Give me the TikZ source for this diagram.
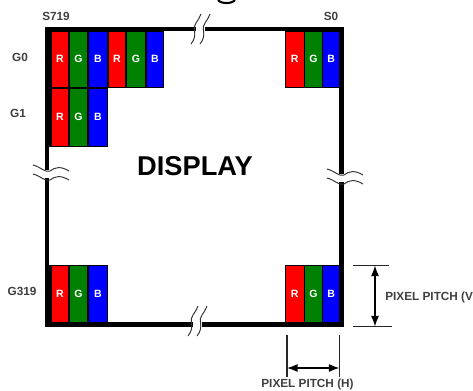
\documentclass[tikz,border=0pt]{standalone}
\usepackage{fontspec}
\setmainfont{Liberation Sans}
\usepackage{tikz}
\usetikzlibrary{arrows.meta}
\definecolor{pixred}{RGB}{255,0,0}
\definecolor{pixgreen}{RGB}{0,128,0}
\definecolor{pixblue}{RGB}{0,0,255}
\tikzset{
	cell/.style={draw=black,line width=0.5pt,inner sep=0pt,text=white,font=\fontsize{6}{6}\selectfont\bfseries,anchor=north west},
	lab/.style={text=black!75,inner sep=0pt,font=\fontsize{6.7}{7}\selectfont\bfseries},
	frameline/.style={line width=2.5pt},
	breakline/.style={line width=0.55pt,black!80},
	dimline/.style={line width=0.6pt,black!85},
	dimarrow/.style={line width=0.7pt,{Latex[length=6pt,width=4.5pt]}-{Latex[length=6pt,width=4.5pt]}}
}
% one cell: name, colour, letter, left, top, right, bottom
\newcommand{\pixcell}[7]{\node[cell,fill=#2,minimum width={(#6-#4)*0.567pt},minimum height={(#7-#5)*0.567pt}] (#1) at (#4,#5) {#3};}
% one R G B triple: prefix, left, x1, x2, right, top, bottom
\newcommand{\pixtriple}[7]{
	\pixcell{#1r}{pixred}{R}{#2}{#6}{#3}{#7}
	\pixcell{#1g}{pixgreen}{G}{#3}{#6}{#4}{#7}
	\pixcell{#1b}{pixblue}{B}{#4}{#6}{#5}{#7}
}
\begin{document}
\begin{tikzpicture}[x=0.02cm,y=-0.02cm]
	\useasboundingbox (0,0) rectangle (473,390);
	\fill[white] (0,0) rectangle (473,390);
	% frame
	\draw[frameline] (47.2,28.8) rectangle (341.5,324.5);
	\fill (45,27) rectangle (50.5,146.5);
	\fill (45,265) rectangle (50.5,326.7);
	% pixels
	\pixtriple{a}{50.5}{68.5}{87.5}{107.5}{30.5}{87.5}
	\pixtriple{b}{107.5}{125.5}{145.5}{163.5}{30.5}{87.5}
	\pixtriple{c}{50.5}{68.5}{87.5}{107.5}{87.5}{146.5}
	\pixtriple{d}{284.7}{304}{322}{339.5}{30.5}{87.5}
	\pixtriple{e}{50.5}{68.5}{87.5}{107.5}{265.3}{322.5}
	\pixtriple{f}{284.7}{304}{322}{339.5}{265.3}{322.5}
	% breaks in the frame
	\foreach \bx/\by/\gy in {200/14/29,197/306/324.5}{
		\fill[white] ({\bx-4},{\gy-3}) rectangle ({\bx+5},{\gy+3});
		\draw[breakline] ({\bx-9},{\by+30}) .. controls ({\bx-1},{\by+20}) and ({\bx-9},{\by+14}) .. ({\bx-4},{\by+9}) .. controls ({\bx-2},{\by+6}) and ({\bx},{\by+3}) .. ({\bx+1},{\by});
		\draw[breakline] ({\bx},{\by+30}) .. controls ({\bx+8},{\by+20}) and ({\bx},{\by+14}) .. ({\bx+5},{\by+9}) .. controls ({\bx+7},{\by+6}) and ({\bx+9},{\by+3}) .. ({\bx+10},{\by});
	}
	\foreach \bx/\by in {33/165,327/169}{
		\fill[white] ({\bx+8},{\by+5}) rectangle ({\bx+20},{\by+13});
		\draw[breakline] (\bx,\by) .. controls ({\bx+8},{\by+2}) and ({\bx+12},{\by+8}) .. ({\bx+17},{\by+6}) .. controls ({\bx+22},{\by+2}) and ({\bx+28},{\by+1}) .. ({\bx+36},{\by+6});
		\draw[breakline] (\bx,{\by+9}) .. controls ({\bx+8},{\by+11}) and ({\bx+12},{\by+17}) .. ({\bx+17},{\by+15}) .. controls ({\bx+22},{\by+11}) and ({\bx+28},{\by+10}) .. ({\bx+36},{\by+15});
	}
	% cut off piece at the top edge
	\draw[line width=1.2pt] (218,0) .. controls (221,4) and (232,4) .. (235,0);
	% labels
	\node[lab] (s719) at (56,16.5) {S719};
	\node[lab] (s0) at (331,16.5) {S0};
	\node[lab] (g0) at (20,57) {G0};
	\node[lab] (g1) at (18,113) {G1};
	\node[lab] (g319) at (22,291) {G319};
	\node[font=\fontsize{15.5}{16}\selectfont\bfseries,inner sep=0pt] (display) at (195,166.5) {DISPLAY};
	% pixel pitch
	\coordinate (vtl) at (353,265.5);
	\coordinate (vtr) at (389,265.5);
	\coordinate (vbl) at (353,326.5);
	\coordinate (vbr) at (392,326.5);
	\coordinate (va) at (375,265.5);
	\coordinate (vb) at (375,326.5);
	\coordinate (hlt) at (287,335);
	\coordinate (hlb) at (287,377);
	\coordinate (hrt) at (339.5,335);
	\coordinate (hrb) at (339.5,377);
	\coordinate (ha) at (287,368);
	\coordinate (hb) at (339.5,368);
	\draw[dimline] (vtl) -- (vtr);
	\draw[dimline] (vbl) -- (vbr);
	\draw[dimline] (hlt) -- (hlb);
	\draw[dimline] (hrt) -- (hrb);
	\draw[dimarrow] (va) -- (vb);
	\draw[dimarrow] (ha) -- (hb);
	\node[lab,anchor=west] (pitchv) at (385,297) {PIXEL PITCH (V};
	\node[lab] (pitchh) at (307.5,384.5) {PIXEL PITCH (H)};
\end{tikzpicture}
\end{document}
